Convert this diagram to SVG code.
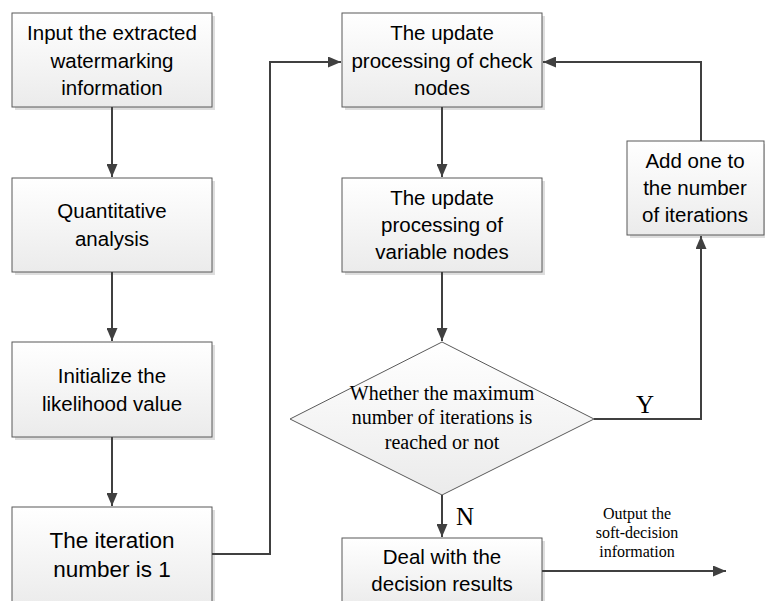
<svg xmlns="http://www.w3.org/2000/svg" width="765" height="601" viewBox="0 0 765 601">
<defs>
<linearGradient id="g" x1="0" y1="0" x2="0" y2="1">
<stop offset="0" stop-color="#ffffff"/>
<stop offset="1" stop-color="#ebebeb"/>
</linearGradient>
<marker id="arr" viewBox="0 0 13 11" refX="13" refY="5.5" markerWidth="13" markerHeight="11" markerUnits="userSpaceOnUse" orient="auto">
<path d="M0,0 L13,5.5 L0,11 z" fill="#404040"/>
</marker>
<style>
.box{fill:url(#g);stroke:#595959;stroke-width:1}
.sh{fill:#dedede;stroke:none}
.t{font-family:"Liberation Sans",Arial,sans-serif;font-size:20.5px;fill:#000;text-anchor:middle}
.tr{font-family:"Liberation Serif","Times New Roman",serif;fill:#000;text-anchor:middle}
.c{fill:none;stroke:#404040;stroke-width:2}
</style>
</defs>
<rect width="765" height="601" fill="#fff"/>
<g id="n1">
<rect class="sh" x="15" y="16" width="200" height="94"/>
<rect class="box" x="12" y="13" width="200" height="94"/>
<text class="t" x="112" y="40">Input the extracted</text>
<text class="t" x="112" y="68">watermarking</text>
<text class="t" x="112" y="95">information</text>
</g>
<g id="n2">
<rect class="sh" x="15" y="181" width="200" height="94"/>
<rect class="box" x="12" y="178" width="200" height="94"/>
<text class="t" x="112" y="218">Quantitative</text>
<text class="t" x="112" y="246">analysis</text>
</g>
<g id="n3">
<rect class="sh" x="15" y="345" width="200" height="95"/>
<rect class="box" x="12" y="342" width="200" height="95"/>
<text class="t" x="112" y="383">Initialize the</text>
<text class="t" x="112" y="411">likelihood value</text>
</g>
<g id="n4">
<rect class="sh" x="15" y="510" width="200" height="100"/>
<rect class="box" x="12" y="507" width="200" height="100"/>
<text class="t" style="font-size:22.5px" x="112" y="548">The iteration</text>
<text class="t" style="font-size:22.5px" x="112" y="577">number is 1</text>
</g>
<g id="n5">
<rect class="sh" x="345" y="16" width="200" height="94"/>
<rect class="box" x="342" y="13" width="200" height="94"/>
<text class="t" x="442" y="40">The update</text>
<text class="t" x="442" y="68">processing of check</text>
<text class="t" x="442" y="95">nodes</text>
</g>
<g id="n6">
<rect class="sh" x="345" y="181" width="200" height="94"/>
<rect class="box" x="342" y="178" width="200" height="94"/>
<text class="t" x="442" y="205">The update</text>
<text class="t" x="442" y="232">processing of</text>
<text class="t" x="442" y="259">variable nodes</text>
</g>
<g id="n7">
<rect class="sh" x="630" y="144" width="137" height="94"/>
<rect class="box" x="627" y="141" width="137" height="94"/>
<text class="t" x="695" y="168">Add one to</text>
<text class="t" x="695" y="195">the number</text>
<text class="t" x="695" y="222">of iterations</text>
</g>
<g id="n8">
<polygon points="442,342 594,419 442,495 290,419" fill="url(#g)" stroke="#595959" stroke-width="1"/>
<text class="tr" font-size="20" x="442" y="400">Whether the maximum</text>
<text class="tr" font-size="20" x="442" y="424">number of iterations is</text>
<text class="tr" font-size="20" x="442" y="449">reached or not</text>
</g>
<g id="n9">
<rect class="sh" x="345" y="541" width="200" height="70"/>
<rect class="box" x="342" y="538" width="200" height="70"/>
<text class="t" x="442" y="564">Deal with the</text>
<text class="t" x="442" y="591">decision results</text>
</g>
<g id="connectors">
<line class="c" x1="112" y1="107" x2="112" y2="177" marker-end="url(#arr)"/>
<line class="c" x1="112" y1="272" x2="112" y2="341" marker-end="url(#arr)"/>
<line class="c" x1="112" y1="437" x2="112" y2="506" marker-end="url(#arr)"/>
<polyline class="c" points="212,554 270,554 270,62 341,62" marker-end="url(#arr)"/>
<line class="c" x1="442" y1="107" x2="442" y2="177" marker-end="url(#arr)"/>
<line class="c" x1="442" y1="272" x2="442" y2="341" marker-end="url(#arr)"/>
<polyline class="c" points="594,419 701,419 701,236" marker-end="url(#arr)"/>
<polyline class="c" points="701,141 701,62 543,62" marker-end="url(#arr)"/>
<line class="c" x1="442" y1="495" x2="442" y2="537" marker-end="url(#arr)"/>
<line class="c" x1="542" y1="571" x2="726" y2="571" marker-end="url(#arr)"/>
<text class="tr" font-size="25" x="645" y="413">Y</text>
<text class="tr" font-size="25" x="465" y="525">N</text>
<text class="tr" font-size="16" x="637" y="519">Output the</text>
<text class="tr" font-size="16" x="637" y="538">soft-decision</text>
<text class="tr" font-size="16" x="637" y="557">information</text>
</g>
</svg>
